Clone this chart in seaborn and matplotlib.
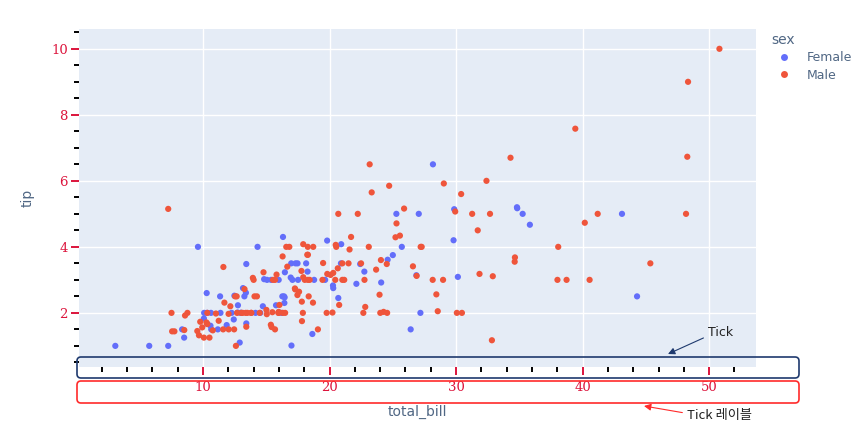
import pandas as pd
import matplotlib.pyplot as plt
import seaborn as sns
from matplotlib.lines import Line2D
from matplotlib.patches import FancyBboxPatch
from matplotlib.ticker import MultipleLocator

# tips data: total bill, tip, and sex (F = Female, M = Male)
total_bill = [
    16.99, 10.34, 21.01, 23.68, 24.59, 25.29, 8.77, 26.88, 15.04, 14.78,
    10.27, 35.26, 15.42, 18.43, 14.83, 21.58, 10.33, 16.29, 16.97, 20.65,
    17.92, 20.29, 15.77, 39.42, 19.82, 17.81, 13.37, 12.69, 21.70, 19.65,
    9.55, 18.35, 15.06, 20.69, 17.78, 24.06, 16.31, 16.93, 18.69, 31.27,
    16.04, 17.46, 13.94, 9.68, 30.40, 18.29, 22.23, 32.40, 28.55, 18.04,
    12.54, 10.29, 34.81, 9.94, 25.56, 19.49, 38.01, 26.41, 11.24, 48.27,
    20.29, 13.81, 11.02, 18.29, 17.59, 20.08, 16.45, 3.07, 20.23, 15.01,
    12.02, 17.07, 26.86, 25.28, 14.73, 10.51, 17.92, 27.20, 22.76, 17.29,
    19.44, 16.66, 10.07, 32.68, 15.98, 34.83, 13.03, 18.28, 24.71, 21.16,
    28.97, 22.49, 5.75, 16.32, 22.75, 40.17, 27.28, 12.03, 21.01, 12.46,
    11.35, 15.38, 44.30, 22.42, 20.92, 15.36, 20.49, 25.21, 18.24, 14.31,
    14.00, 7.25, 38.07, 23.95, 25.71, 17.31, 29.93, 10.65, 12.43, 24.08,
    11.69, 13.42, 14.26, 15.95, 12.48, 29.80, 8.52, 14.52, 11.38, 22.82,
    19.08, 20.27, 11.17, 12.26, 18.26, 8.51, 10.33, 14.15, 16.00, 13.16,
    17.47, 34.30, 41.19, 27.05, 16.43, 8.35, 18.64, 11.87, 9.78, 7.51,
    14.07, 13.13, 17.26, 24.55, 19.77, 29.85, 48.17, 25.00, 13.39, 16.49,
    21.50, 12.66, 16.21, 13.81, 17.51, 24.52, 20.76, 31.71, 10.59, 10.63,
    50.81, 15.81, 7.25, 31.85, 16.82, 32.90, 17.89, 14.48, 9.60, 34.63,
    34.65, 23.33, 45.35, 23.17, 40.55, 20.69, 20.90, 30.46, 18.15, 23.10,
    15.69, 19.81, 28.44, 15.48, 16.58, 7.56, 10.34, 43.11, 13.00, 13.51,
    18.71, 12.74, 13.00, 16.40, 20.53, 16.47, 26.59, 38.73, 24.27, 12.76,
    30.06, 25.89, 48.33, 13.27, 28.17, 12.90, 28.15, 11.59, 7.74, 30.14,
    12.16, 13.42, 8.58, 15.98, 13.42, 16.27, 10.09, 20.45, 13.28, 22.12,
    24.01, 15.69, 11.61, 10.77, 15.53, 10.07, 12.60, 32.83, 35.83, 29.03,
    27.18, 22.67, 17.82, 18.78,
]
tip = [
    1.01, 1.66, 3.50, 3.31, 3.61, 4.71, 2.00, 3.12, 1.96, 3.23,
    1.71, 5.00, 1.57, 3.00, 3.02, 3.92, 1.67, 3.71, 3.50, 3.35,
    4.08, 2.75, 2.23, 7.58, 3.18, 2.34, 2.00, 2.00, 4.30, 3.00,
    1.45, 2.50, 3.00, 2.45, 3.27, 3.60, 2.00, 3.07, 2.31, 5.00,
    2.24, 2.54, 3.06, 1.32, 5.60, 3.00, 5.00, 6.00, 2.05, 3.00,
    2.50, 2.60, 5.20, 1.56, 4.34, 3.51, 3.00, 1.50, 1.76, 6.73,
    3.21, 2.00, 1.98, 3.76, 2.64, 3.15, 2.47, 1.00, 2.01, 2.09,
    1.97, 3.00, 3.14, 5.00, 2.20, 1.25, 3.08, 4.00, 3.00, 2.71,
    3.00, 3.40, 1.83, 5.00, 2.03, 5.17, 2.00, 4.00, 5.85, 3.00,
    3.00, 3.50, 1.00, 4.30, 3.25, 4.73, 4.00, 1.50, 3.00, 1.50,
    2.50, 3.00, 2.50, 3.48, 4.08, 1.64, 4.06, 4.29, 3.76, 4.00,
    3.00, 1.00, 4.00, 2.55, 4.00, 3.50, 5.07, 1.50, 1.80, 2.92,
    2.31, 1.68, 2.50, 2.00, 2.52, 4.20, 1.48, 2.00, 2.00, 2.18,
    1.50, 2.83, 1.50, 2.00, 3.25, 1.25, 2.00, 2.00, 2.00, 2.75,
    3.50, 6.70, 5.00, 5.00, 2.30, 1.50, 1.36, 1.63, 1.73, 2.00,
    2.50, 2.00, 2.74, 2.00, 2.00, 5.14, 5.00, 3.75, 2.61, 2.00,
    3.50, 2.50, 2.00, 2.00, 3.00, 3.48, 2.24, 4.50, 1.61, 2.00,
    10.00, 3.16, 5.15, 3.18, 4.00, 3.11, 2.00, 2.00, 4.00, 3.55,
    3.68, 5.65, 3.50, 6.50, 3.00, 5.00, 3.50, 2.00, 3.50, 4.00,
    1.50, 4.19, 2.56, 2.02, 4.00, 1.44, 2.00, 5.00, 2.00, 2.00,
    4.00, 2.01, 2.00, 2.50, 4.00, 3.23, 3.41, 3.00, 2.03, 2.23,
    2.00, 5.16, 9.00, 2.50, 6.50, 1.10, 3.00, 1.50, 1.44, 3.09,
    2.20, 3.48, 1.92, 3.00, 1.58, 2.50, 2.00, 3.00, 2.72, 2.88,
    2.00, 3.00, 3.39, 1.47, 3.00, 1.25, 1.00, 1.17, 4.67, 5.92,
    2.00, 2.00, 1.75, 3.00,
]
sex_codes = (
    "FMMMFMMMMM" "MFMMFMFMFM" "MFFMMMMMMF" "MMFFMMMFMM" "MMMMMMMMMM"
    "MFFMMMMFMM" "MMMMMMFFMM" "MFFFFMMMMM" "MMFMMFMMMM" "MMFFFMMMMM"
    "FFFFFMMMMF" "MFMMFFMFFF" "MFMMFFMFFM" "MFFFFFFFMF" "FMMFFFFFMM"
    "MMMMMFMFFM" "MMFMFMMMFF" "MMMMMMMMFM" "MMMMMMFMFM" "MFMMMMMFFM"
    "MFFFMFMMMF" "MMMFFFMMMF" "MFMFMFFMMF" "MMMMMMMMFM" "FMMF"
)
sex_names = {"F": "Female", "M": "Male"}
sex_order = ["Female", "Male"]
sex_colors = ["#636EFA", "#EF553B"]

df = pd.DataFrame({
    "total_bill": total_bill,
    "tip": tip,
    "sex": [sex_names[c] for c in sex_codes],
})
# plotly draws the Female trace first, then Male on top
df = df.sort_values("sex", kind="stable")

sns.set_style("darkgrid", {
    "axes.facecolor": "#E5ECF6",
    "grid.color": "white",
    "axes.edgecolor": "none",
    "xtick.bottom": True,
    "ytick.left": True,
})
plt.rcParams["font.family"] = ["DejaVu Sans"]

fig = plt.figure(figsize=(8.66, 4.30), dpi=100)
ax = fig.add_axes([79 / 866, 63 / 430, 677 / 866, 338 / 430])

sns.scatterplot(data=df, x="total_bill", y="tip", hue="sex",
                hue_order=sex_order, palette=sex_colors,
                s=20, linewidth=0, legend=False, ax=ax)

ax.set_xlim(0.2, 53.7)
ax.set_ylim(0.36, 10.6)
ax.xaxis.set_major_locator(MultipleLocator(10))
ax.xaxis.set_minor_locator(MultipleLocator(2))
ax.yaxis.set_major_locator(MultipleLocator(2))
ax.yaxis.set_minor_locator(MultipleLocator(0.5))
ax.grid(True, which="major", color="white", linewidth=1)
ax.grid(False, which="minor")

ax.tick_params(which="both", bottom=True, left=True)
ax.tick_params(which="major", direction="out", length=6, width=1.4,
               color="crimson", labelcolor="crimson", labelsize=9.5)
ax.tick_params(which="minor", direction="out", length=3.8, width=1.4,
               color="black")
ax.tick_params(axis="x", which="major", pad=4)
ax.tick_params(axis="y", which="major", pad=2)
for lab in ax.get_xticklabels() + ax.get_yticklabels():
    lab.set_fontfamily("DejaVu Serif")

title_color = "#506784"
ax.set_xlabel("total_bill", color=title_color, fontsize=10, labelpad=8)
ax.set_ylabel("tip", color=title_color, fontsize=10, labelpad=12)

handles = [Line2D([], [], marker="o", linestyle="", markersize=5,
                  markerfacecolor=c, markeredgewidth=0) for c in sex_colors]
leg = ax.legend(handles, sex_order, title="sex", loc="upper left",
                bbox_to_anchor=(766 / 866, 1 - 28 / 430),
                bbox_transform=fig.transFigure, frameon=False,
                fontsize=9, title_fontsize=10, alignment="left",
                handletextpad=0.9, labelspacing=0.35, borderaxespad=0)
leg.get_title().set_color("#506784")
for t in leg.get_texts():
    t.set_color("#506784")

# annotation overlay in pixel space
over = fig.add_axes([0, 0, 1, 1], facecolor="none")
over.set_xlim(0, 866)
over.set_ylim(430, 0)
over.axis("off")

navy = "#1f3a6e"
red = "#ff2a2a"
over.add_patch(FancyBboxPatch((77, 357), 722, 21,
                              boxstyle="round,pad=0,rounding_size=4",
                              fill=False, edgecolor=navy, linewidth=1.2))
over.add_patch(FancyBboxPatch((77, 381), 722, 22,
                              boxstyle="round,pad=0,rounding_size=4",
                              fill=False, edgecolor=red, linewidth=1.2))

over.annotate("Tick", xy=(668, 354), xytext=(708, 332),
              ha="left", va="center", fontsize=9, color="#222222",
              arrowprops=dict(arrowstyle="-|>", color=navy, lw=0.8,
                              mutation_scale=10, shrinkA=1, shrinkB=0,
                              relpos=(0, 0.2)))
over.annotate("Tick 레이블", xy=(644, 406), xytext=(687, 416),
              ha="left", va="center", fontsize=9.5, color="#222222",
              family=["Noto Sans CJK KR", "DejaVu Sans"],
              arrowprops=dict(arrowstyle="-|>", color=red, lw=0.8,
                              mutation_scale=10, shrinkA=1, shrinkB=0,
                              relpos=(0, 0.7)))

fig.savefig("out.png", dpi=100)
